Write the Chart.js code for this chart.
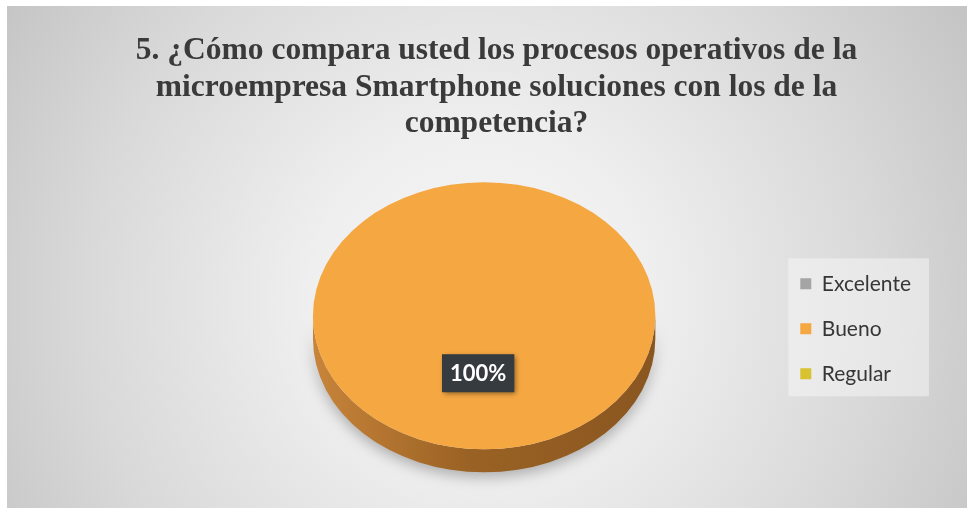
<!DOCTYPE html>
<html lang="es">
<head>
<meta charset="utf-8">
<title>Procesos operativos</title>
<script src="https://cdn.jsdelivr.net/npm/chart.js@4.4.1/dist/chart.umd.min.js"></script>
<style>
  html, body { margin: 0; padding: 0; background: #fff; }
</style>
</head>
<body>
<canvas id="pieChart" width="967" height="511"></canvas>
<script>
const titulo = [
  '5. ¿Cómo compara usted los procesos operativos de la',
  'microempresa Smartphone soluciones con los de la',
  'competencia?'
];
const categorias = ['Excelente', 'Bueno', 'Regular'];
const respuestas = [0, 100, 0];
const colores = ['#a5a5a5', '#f5a742', '#d8c232'];

// grey vignette background + light panel behind the legend
const fondo = {
  id: 'fondo',
  beforeDraw(chart) {
    const { ctx, width, height } = chart;
    ctx.save();
    ctx.fillStyle = '#ffffff';
    ctx.fillRect(0, 0, width, height);
    const g = ctx.createRadialGradient(480, 300, 0, 480, 300, 560);
    g.addColorStop(0, '#f6f6f6');
    g.addColorStop(0.3, '#efefef');
    g.addColorStop(0.7, '#d9d9d9');
    g.addColorStop(1, '#c5c5c5');
    ctx.fillStyle = g;
    ctx.fillRect(7, 6, width - 7, height - 9);

    const boxes = chart.legend && chart.legend.legendHitBoxes;
    if (boxes && boxes.length) {
      const left = Math.min(...boxes.map(b => b.left)) - 12;
      const right = Math.max(...boxes.map(b => b.left + b.width)) + 18;
      const top = boxes[0].top - 15;
      const bottom = boxes[boxes.length - 1].top + boxes[boxes.length - 1].height + 12;
      ctx.fillStyle = 'rgba(248,248,248,0.5)';
      ctx.fillRect(left, top, right - left, bottom - top);
    }
    ctx.restore();
  }
};

// squashes the pie into an ellipse, adds the extruded side and the % label
const pie3d = {
  id: 'pie3d',
  geom(chart, opts) {
    const a0 = chart.getDatasetMeta(0).data[0];
    const rx = a0.outerRadius;
    return { ox: a0.x, oy: a0.y, cx: a0.x + opts.shiftX, cy: a0.y + opts.shiftY, rx: rx, ry: rx * opts.squash };
  },
  beforeDatasetsDraw(chart, args, opts) {
    const { ctx } = chart;
    const arcs = chart.getDatasetMeta(0).data;
    const g = this.geom(chart, opts);
    const d = opts.depth;

    ctx.save();
    const grad = ctx.createLinearGradient(g.cx - g.rx, 0, g.cx + g.rx, 0);
    grad.addColorStop(0, '#c8843a');
    grad.addColorStop(0.45, '#9a6224');
    grad.addColorStop(1, '#8a5620');
    ctx.shadowColor = 'rgba(0,0,0,0.28)';
    ctx.shadowBlur = 14;
    ctx.shadowOffsetY = 5;
    arcs.forEach(arc => {
      if (arc.endAngle - arc.startAngle <= 0) return;
      [-2 * Math.PI, 0, 2 * Math.PI].forEach(off => {
        const a = Math.max(arc.startAngle, off);
        const b = Math.min(arc.endAngle, off + Math.PI);
        if (b <= a) return;
        ctx.beginPath();
        ctx.ellipse(g.cx, g.cy, g.rx, g.ry, 0, a, b);
        ctx.ellipse(g.cx, g.cy + d, g.rx, g.ry, 0, b, a, true);
        ctx.closePath();
        ctx.fillStyle = grad;
        ctx.fill();
      });
    });
    ctx.restore();

    ctx.save();
    ctx.translate(g.cx, g.cy);
    ctx.scale(1, opts.squash);
    ctx.translate(-g.ox, -g.oy);
  },
  afterDatasetsDraw(chart, args, opts) {
    const { ctx } = chart;
    ctx.restore();
    const arcs = chart.getDatasetMeta(0).data;
    const g = this.geom(chart, opts);
    const total = respuestas.reduce((s, v) => s + v, 0);

    ctx.save();
    ctx.font = 'bold 22px Lato';
    ctx.textAlign = 'center';
    ctx.textBaseline = 'middle';
    arcs.forEach((arc, i) => {
      const v = respuestas[i];
      if (!v) return;
      const txt = Math.round(v / total * 100) + '%';
      const mid = (arc.startAngle + arc.endAngle) / 2;
      const r = arc.outerRadius * 0.43;
      const x = g.cx + Math.cos(mid) * r + opts.labelDx;
      const y = g.cy + Math.sin(mid) * r * opts.squash;
      const w = ctx.measureText(txt).width + 16;
      const h = 38;
      ctx.shadowColor = 'rgba(0,0,0,0.45)';
      ctx.shadowBlur = 5;
      ctx.shadowOffsetX = 2;
      ctx.shadowOffsetY = 2;
      ctx.fillStyle = '#363b40';
      ctx.fillRect(x - w / 2, y - h / 2, w, h);
      ctx.shadowColor = 'transparent';
      ctx.fillStyle = '#ffffff';
      ctx.fillText(txt, x, y + 1);
    });
    ctx.restore();
  }
};

const ctx = document.querySelector('#pieChart').getContext('2d');
const pieChart = new Chart(ctx, {
  type: 'pie',
  data: {
    labels: categorias,
    datasets: [{
      data: respuestas,
      backgroundColor: colores,
      borderWidth: 0,
      clip: false
    }]
  },
  plugins: [fondo, pie3d],
  options: {
    responsive: false,
    animation: false,
    layout: {
      padding: { top: 6, left: 72, right: 46, bottom: 11 }
    },
    plugins: {
      pie3d: { squash: 0.78, shiftX: 60, shiftY: -13, depth: 23, labelDx: -6 },
      title: {
        display: true,
        text: titulo,
        color: '#3a3a3a',
        font: { family: 'Liberation Serif', size: 31.5, weight: 'bold', lineHeight: 1.16 },
        padding: { top: 27, bottom: 15 }
      },
      legend: {
        position: 'right',
        fullSize: false,
        labels: {
          boxWidth: 11,
          boxHeight: 11,
          padding: 24,
          color: '#363636',
          font: { family: 'Lato', size: 21 }
        }
      },
      tooltip: { enabled: false }
    }
  }
});
</script>
</body>
</html>
